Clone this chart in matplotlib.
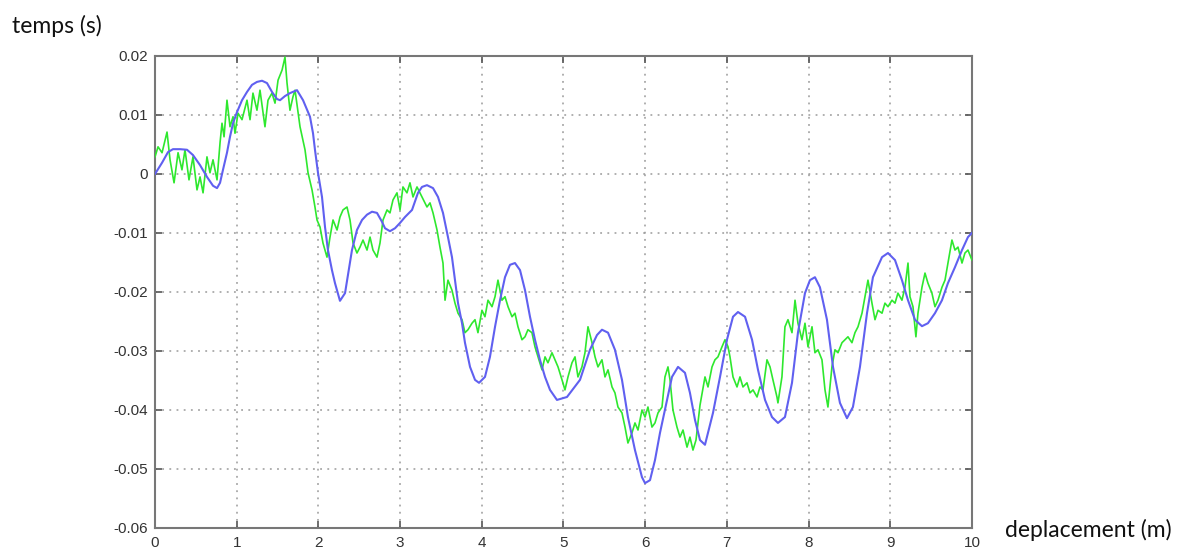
import matplotlib
matplotlib.use('Agg')
import matplotlib.pyplot as plt

# ---- DATA ----
x_ticks = [0, 1, 2, 3, 4, 5, 6, 7, 8, 9, 10]
y_ticks = [0.02, 0.01, 0, -0.01, -0.02, -0.03, -0.04, -0.05, -0.06]
y_tick_labels = ['0.02', '0.01', '0', '-0.01', '-0.02', '-0.03', '-0.04', '-0.05', '-0.06']

# smooth blue curve
blue_x = [0.000, 0.086, 0.159, 0.220, 0.306, 0.392, 0.465, 0.551, 0.636, 0.710,
          0.759, 0.796, 0.832, 0.881, 0.918, 0.955, 1.004, 1.065, 1.126, 1.187,
          1.248, 1.310, 1.371, 1.432, 1.493, 1.530, 1.591, 1.652, 1.738, 1.812,
          1.897, 1.934, 1.958, 1.995, 2.044, 2.081, 2.117, 2.166, 2.203, 2.264,
          2.326, 2.362, 2.411, 2.472, 2.534, 2.595, 2.656, 2.717, 2.778, 2.815,
          2.876, 2.938, 2.999, 3.060, 3.146, 3.219, 3.268, 3.329, 3.403, 3.464,
          3.525, 3.586, 3.635, 3.672, 3.709, 3.758, 3.794, 3.856, 3.917, 3.966,
          4.039, 4.100, 4.162, 4.223, 4.284, 4.345, 4.406, 4.468, 4.529, 4.590,
          4.651, 4.712, 4.774, 4.835, 4.920, 5.043, 5.202, 5.324, 5.410, 5.471,
          5.545, 5.630, 5.716, 5.789, 5.875, 5.961, 5.998, 6.059, 6.120, 6.181,
          6.267, 6.328, 6.402, 6.487, 6.548, 6.610, 6.671, 6.732, 6.830, 6.916,
          7.001, 7.075, 7.136, 7.222, 7.308, 7.381, 7.467, 7.552, 7.625, 7.711,
          7.797, 7.870, 7.956, 8.017, 8.078, 8.139, 8.225, 8.299, 8.384, 8.470,
          8.543, 8.629, 8.715, 8.788, 8.899, 8.972, 9.058, 9.143, 9.217, 9.302,
          9.388, 9.461, 9.547, 9.633, 9.706, 9.792, 9.878, 9.951, 10.000]
blue_y = [0.0000, 0.0019, 0.0037, 0.0042, 0.0042, 0.0041, 0.0032, 0.0015, -0.0005, -0.0020,
          -0.0024, -0.0015, 0.0007, 0.0036, 0.0063, 0.0086, 0.0105, 0.0125, 0.0139, 0.0151,
          0.0156, 0.0158, 0.0154, 0.0139, 0.0127, 0.0125, 0.0132, 0.0137, 0.0142, 0.0125,
          0.0097, 0.0069, 0.0041, 0.0002, -0.0039, -0.0090, -0.0129, -0.0163, -0.0185, -0.0215,
          -0.0202, -0.0171, -0.0129, -0.0095, -0.0078, -0.0069, -0.0064, -0.0066, -0.0081, -0.0092,
          -0.0097, -0.0092, -0.0083, -0.0073, -0.0061, -0.0032, -0.0022, -0.0019, -0.0024, -0.0039,
          -0.0066, -0.0107, -0.0141, -0.0180, -0.0219, -0.0253, -0.0286, -0.0327, -0.0349, -0.0354,
          -0.0344, -0.0310, -0.0259, -0.0214, -0.0175, -0.0154, -0.0151, -0.0163, -0.0197, -0.0242,
          -0.0281, -0.0315, -0.0344, -0.0366, -0.0383, -0.0378, -0.0349, -0.0298, -0.0273, -0.0264,
          -0.0269, -0.0298, -0.0349, -0.0412, -0.0468, -0.0514, -0.0524, -0.0519, -0.0485, -0.0439,
          -0.0383, -0.0344, -0.0327, -0.0337, -0.0371, -0.0417, -0.0451, -0.0459, -0.0405, -0.0344,
          -0.0281, -0.0242, -0.0234, -0.0242, -0.0281, -0.0332, -0.0383, -0.0412, -0.0422, -0.0412,
          -0.0354, -0.0269, -0.0202, -0.0180, -0.0175, -0.0192, -0.0247, -0.0327, -0.0388, -0.0414,
          -0.0395, -0.0327, -0.0236, -0.0175, -0.0141, -0.0134, -0.0146, -0.0180, -0.0214, -0.0247,
          -0.0258, -0.0253, -0.0236, -0.0214, -0.0185, -0.0158, -0.0129, -0.0107, -0.0100]

# noisy green curve
green_x = [0.000, 0.037, 0.086, 0.147, 0.184, 0.233, 0.282, 0.330, 0.367, 0.416,
           0.465, 0.514, 0.551, 0.588, 0.636, 0.673, 0.710, 0.759, 0.796, 0.820,
           0.845, 0.881, 0.918, 0.955, 0.979, 1.016, 1.065, 1.126, 1.163, 1.199,
           1.248, 1.285, 1.346, 1.383, 1.432, 1.469, 1.506, 1.555, 1.591, 1.616,
           1.652, 1.689, 1.714, 1.775, 1.836, 1.873, 1.922, 1.958, 1.983, 2.020,
           2.056, 2.105, 2.142, 2.179, 2.228, 2.264, 2.301, 2.350, 2.387, 2.424,
           2.472, 2.509, 2.546, 2.595, 2.632, 2.668, 2.717, 2.754, 2.791, 2.840,
           2.876, 2.913, 2.962, 2.999, 3.035, 3.084, 3.121, 3.158, 3.207, 3.268,
           3.329, 3.366, 3.403, 3.452, 3.488, 3.525, 3.550, 3.586, 3.635, 3.672,
           3.709, 3.758, 3.794, 3.831, 3.880, 3.917, 3.953, 4.002, 4.039, 4.076,
           4.125, 4.162, 4.198, 4.247, 4.284, 4.321, 4.370, 4.406, 4.443, 4.492,
           4.529, 4.565, 4.614, 4.651, 4.688, 4.737, 4.774, 4.810, 4.859, 4.896,
           4.933, 4.982, 5.018, 5.055, 5.104, 5.141, 5.177, 5.226, 5.263, 5.300,
           5.349, 5.386, 5.422, 5.471, 5.508, 5.545, 5.594, 5.630, 5.667, 5.716,
           5.753, 5.789, 5.838, 5.875, 5.912, 5.961, 5.998, 6.034, 6.083, 6.120,
           6.157, 6.206, 6.242, 6.279, 6.304, 6.340, 6.389, 6.426, 6.463, 6.512,
           6.548, 6.585, 6.622, 6.671, 6.732, 6.769, 6.818, 6.854, 6.891, 6.940,
           6.977, 7.014, 7.038, 7.075, 7.124, 7.160, 7.197, 7.246, 7.283, 7.320,
           7.369, 7.405, 7.442, 7.491, 7.528, 7.564, 7.613, 7.625, 7.674, 7.711,
           7.748, 7.797, 7.834, 7.870, 7.919, 7.956, 7.993, 8.042, 8.078, 8.115,
           8.164, 8.201, 8.237, 8.286, 8.323, 8.360, 8.409, 8.446, 8.482, 8.531,
           8.568, 8.605, 8.654, 8.690, 8.727, 8.776, 8.813, 8.850, 8.899, 8.935,
           8.972, 9.021, 9.058, 9.094, 9.143, 9.180, 9.217, 9.241, 9.278, 9.314,
           9.339, 9.388, 9.425, 9.461, 9.510, 9.547, 9.584, 9.633, 9.670, 9.706,
           9.755, 9.792, 9.829, 9.878, 9.914, 9.951, 10.000]
green_y = [0.0029, 0.0046, 0.0036, 0.0071, 0.0024, -0.0015, 0.0036, 0.0007, 0.0041, -0.0010,
           0.0029, -0.0027, -0.0005, -0.0032, 0.0029, 0.0002, 0.0024, -0.0010, 0.0053, 0.0086,
           0.0063, 0.0125, 0.0080, 0.0097, 0.0069, 0.0103, 0.0092, 0.0125, 0.0092, 0.0137,
           0.0108, 0.0142, 0.0080, 0.0125, 0.0137, 0.0120, 0.0159, 0.0176, 0.0198, 0.0154,
           0.0108, 0.0131, 0.0142, 0.0080, 0.0041, 0.0002, -0.0027, -0.0056, -0.0078, -0.0090,
           -0.0117, -0.0141, -0.0107, -0.0078, -0.0095, -0.0073, -0.0061, -0.0056, -0.0078, -0.0117,
           -0.0134, -0.0124, -0.0112, -0.0129, -0.0107, -0.0129, -0.0141, -0.0117, -0.0078, -0.0061,
           -0.0066, -0.0044, -0.0032, -0.0061, -0.0022, -0.0032, -0.0015, -0.0039, -0.0022, -0.0039,
           -0.0056, -0.0049, -0.0066, -0.0095, -0.0124, -0.0151, -0.0214, -0.0180, -0.0197, -0.0219,
           -0.0236, -0.0247, -0.0269, -0.0264, -0.0253, -0.0247, -0.0269, -0.0231, -0.0242, -0.0214,
           -0.0225, -0.0208, -0.0180, -0.0214, -0.0208, -0.0225, -0.0242, -0.0236, -0.0259, -0.0281,
           -0.0276, -0.0264, -0.0269, -0.0293, -0.0310, -0.0332, -0.0310, -0.0320, -0.0303, -0.0315,
           -0.0327, -0.0349, -0.0366, -0.0344, -0.0320, -0.0310, -0.0344, -0.0327, -0.0303, -0.0259,
           -0.0286, -0.0310, -0.0327, -0.0315, -0.0344, -0.0332, -0.0361, -0.0371, -0.0395, -0.0405,
           -0.0429, -0.0456, -0.0439, -0.0422, -0.0434, -0.0400, -0.0412, -0.0395, -0.0429, -0.0422,
           -0.0405, -0.0395, -0.0344, -0.0327, -0.0349, -0.0400, -0.0429, -0.0446, -0.0434, -0.0463,
           -0.0446, -0.0468, -0.0451, -0.0392, -0.0344, -0.0361, -0.0327, -0.0315, -0.0310, -0.0293,
           -0.0281, -0.0293, -0.0310, -0.0344, -0.0361, -0.0344, -0.0361, -0.0354, -0.0371, -0.0366,
           -0.0378, -0.0361, -0.0366, -0.0315, -0.0327, -0.0349, -0.0378, -0.0388, -0.0344, -0.0259,
           -0.0247, -0.0269, -0.0214, -0.0253, -0.0281, -0.0253, -0.0293, -0.0259, -0.0303, -0.0298,
           -0.0315, -0.0366, -0.0395, -0.0327, -0.0298, -0.0303, -0.0286, -0.0281, -0.0276, -0.0286,
           -0.0269, -0.0259, -0.0236, -0.0208, -0.0180, -0.0219, -0.0247, -0.0231, -0.0236, -0.0219,
           -0.0225, -0.0214, -0.0219, -0.0202, -0.0214, -0.0192, -0.0151, -0.0208, -0.0225, -0.0276,
           -0.0236, -0.0192, -0.0168, -0.0185, -0.0202, -0.0225, -0.0214, -0.0192, -0.0180, -0.0151,
           -0.0112, -0.0129, -0.0124, -0.0151, -0.0134, -0.0129, -0.0146]

# ---- PLOT ----
fig = plt.figure(figsize=(11.97, 5.54), dpi=100)
ax = fig.add_axes([0.1295, 0.047, 0.6825, 0.852])

ax.plot(green_x, green_y, color='#2ee82e', linewidth=1.2, zorder=3)
ax.plot(blue_x, blue_y, color='#6060f0', linewidth=1.5, zorder=4)

ax.set_xlim(0, 10)
ax.set_ylim(-0.06, 0.02)
ax.set_xticks(x_ticks)
ax.set_yticks(y_ticks)
ax.set_yticklabels(y_tick_labels)

ax.grid(True, color='#9a9a9a', linestyle=(0, (1.2, 3.5)), linewidth=1.1)
ax.tick_params(direction='in', length=5, width=1.2, color='#555555',
               top=True, right=True, labelsize=11, labelcolor='#333333')
ax.tick_params(axis='x', pad=6)
ax.tick_params(axis='y', pad=5)
for s in ax.spines.values():
    s.set_color('#777777')
    s.set_linewidth(1.5)
for lab in ax.get_xticklabels() + ax.get_yticklabels():
    lab.set_family('Liberation Sans')

fig.text(12 / 1197, 1 - 26 / 554, 'temps (s)', fontsize=16.5, family='Lato',
         ha='left', va='center', color='#111111')
fig.text(1005 / 1197, 1 - 530 / 554, 'deplacement (m)', fontsize=16.5, family='Lato',
         ha='left', va='center', color='#111111')

fig.savefig('out.png', dpi=100)
